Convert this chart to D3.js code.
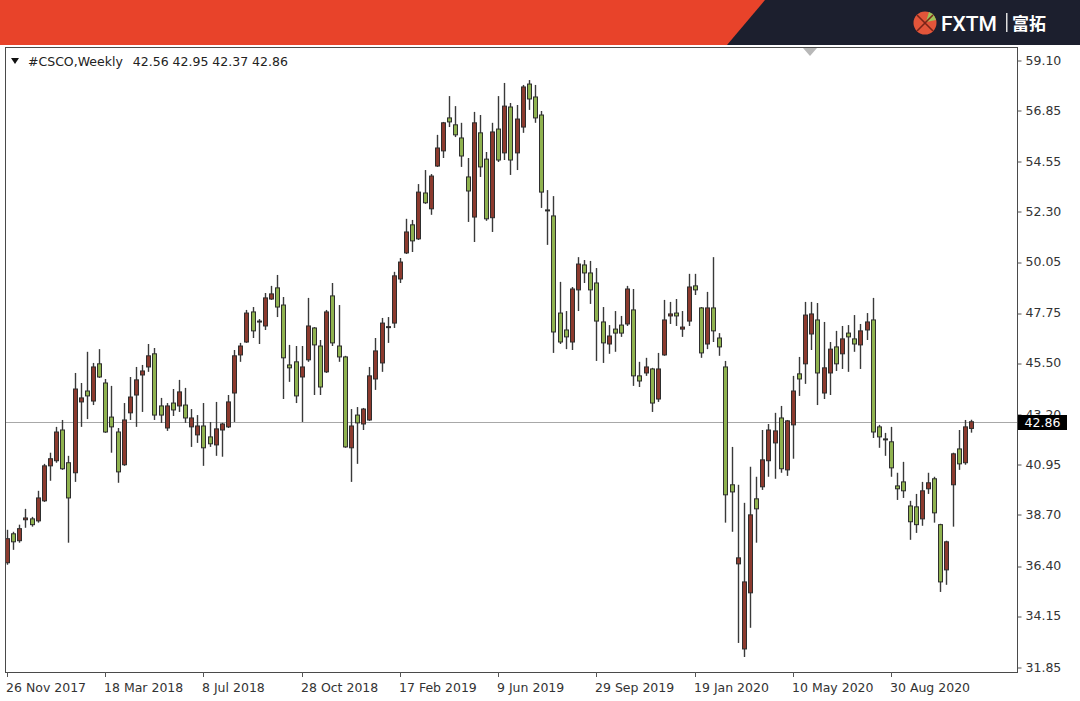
<!DOCTYPE html>
<html><head><meta charset="utf-8">
<script src="https://cdn.jsdelivr.net/npm/d3@7"></script>
<style>html,body{margin:0;padding:0;background:#fff;}svg{display:block;}</style>
</head><body>
<svg id="c" width="1080" height="701"></svg>
<script>
// ---- data (weekly bars from 26 Nov 2017) ----
const open = [
36.53,37.83,37.52,38.46,38.50,38.41,39.31,40.88,41.11,42.49,
41.02,40.57,43.75,44.24,43.79,45.46,44.60,43.07,42.40,40.93,
43.26,44.06,44.96,45.32,45.91,43.57,42.58,43.70,43.57,43.61,
42.63,42.27,42.67,42.18,41.82,42.49,42.63,44.15,45.86,46.44,
47.79,47.38,47.16,48.37,48.87,48.10,45.41,45.55,44.87,45.64,
47.07,46.26,45.10,48.51,46.26,45.77,41.69,43.16,42.76,42.94,
44.78,45.50,47.11,47.29,49.27,50.44,51.70,51.07,53.13,52.42,
54.34,55.02,56.50,56.19,55.60,53.85,52.05,55.83,54.65,52.02,
56.00,54.93,56.99,54.93,56.09,58.02,57.44,56.63,52.37,52.10,
47.74,46.98,46.44,48.78,49.90,49.54,49.09,47.34,46.35,47.02,
47.20,47.25,47.88,44.92,45.05,45.23,43.88,45.86,47.61,47.74,
47.02,47.38,48.96,47.97,46.35,47.97,46.62,45.32,40.03,36.48,
32.66,35.18,39.40,39.94,41.11,41.91,43.03,40.70,42.72,45.01,
45.46,46.80,47.43,44.15,45.05,46.22,45.91,46.84,46.58,46.31,
46.98,47.43,42.63,42.09,41.96,39.98,40.16,39.08,39.04,38.50,
39.85,40.30,38.24,36.21,40.03,41.64,41.02,42.56];
const high = [
38.01,37.92,38.24,38.95,38.59,39.76,40.97,41.47,42.63,42.94,
41.33,45.05,44.60,46.00,45.50,46.12,44.78,44.47,42.58,43.70,
44.87,45.32,45.41,46.35,46.17,43.93,43.70,44.33,44.74,44.38,
43.43,43.16,43.70,42.85,43.75,42.81,44.06,46.08,46.40,47.88,
48.01,47.47,48.64,48.96,49.45,48.46,46.31,46.26,46.26,48.42,
47.11,46.53,47.88,49.09,48.10,45.82,43.43,43.52,43.48,45.32,
46.62,47.52,47.56,49.59,50.21,51.97,51.92,53.53,54.16,53.98,
55.74,56.32,57.48,57.03,56.28,54.70,56.77,56.63,54.97,56.28,
57.48,58.07,57.17,57.08,57.98,58.20,57.98,56.81,53.26,52.99,
49.14,47.83,48.91,50.25,50.12,50.08,49.76,48.01,47.20,47.83,
47.61,48.96,48.82,45.55,45.73,45.28,45.95,48.33,48.24,48.37,
47.83,49.50,49.50,48.01,48.69,50.25,46.84,45.59,41.73,40.03,
39.22,40.84,40.39,42.49,42.76,43.26,43.57,42.94,44.92,45.77,
48.24,48.24,48.19,47.34,46.44,46.94,47.16,47.20,47.65,47.25,
47.74,48.42,42.72,42.36,42.63,40.57,41.06,39.31,39.62,40.16,
40.57,40.39,38.28,37.52,41.47,42.49,42.94,42.95];
const low = [
36.44,37.11,37.43,38.10,38.15,38.33,39.26,40.21,41.02,40.70,
37.43,40.16,42.63,42.98,43.61,44.83,42.36,41.47,40.12,40.88,
42.94,42.63,43.30,45.10,42.94,42.81,42.45,43.12,43.30,42.81,
41.73,41.91,40.88,41.73,41.33,41.29,42.58,42.85,45.55,46.40,
46.62,46.35,46.98,48.33,47.56,43.88,44.65,43.70,42.85,45.55,
44.06,44.06,45.05,46.26,45.55,41.69,40.16,40.97,42.49,42.90,
44.29,45.10,46.40,47.07,49.09,50.39,50.48,51.02,52.64,52.15,
54.30,54.70,56.09,55.64,54.30,51.83,50.93,53.85,51.88,51.38,
54.52,54.61,53.94,54.16,55.83,56.86,56.28,52.46,50.80,45.95,
46.35,46.12,46.08,47.83,49.09,48.15,45.59,45.50,45.91,46.00,
46.67,47.16,44.47,44.42,44.92,43.30,43.75,45.82,47.25,47.16,
46.67,47.16,48.55,45.73,46.12,46.44,45.82,38.33,37.92,32.93,
32.30,33.61,37.43,39.80,40.39,40.30,40.57,40.43,41.20,44.02,
44.56,46.08,43.61,43.88,44.06,45.14,45.23,45.10,46.00,45.23,
46.53,42.13,41.69,41.33,40.39,39.35,39.44,37.56,37.87,38.19,
39.62,38.33,35.22,35.54,38.15,40.70,40.93,42.37];
const close = [
37.61,37.47,38.06,38.54,38.24,39.44,40.88,41.20,42.40,40.75,
39.44,44.33,43.93,44.02,45.32,44.87,42.40,42.63,40.61,42.94,
43.97,44.74,45.14,45.82,43.16,43.16,43.57,43.39,44.20,43.03,
43.03,42.67,41.69,41.87,42.54,42.76,43.75,45.82,46.26,47.74,
46.94,47.34,48.42,48.60,48.01,45.73,45.28,44.02,45.32,47.16,
46.31,44.42,47.79,46.40,45.77,41.73,42.67,42.81,43.43,44.92,
46.04,47.29,47.13,49.41,50.03,51.38,50.98,53.17,52.69,53.89,
55.15,56.28,56.32,55.74,54.79,53.22,56.28,54.30,51.97,55.87,
54.61,57.03,54.61,56.45,57.89,57.35,56.50,53.17,52.35,46.89,
46.44,46.67,48.82,49.94,49.54,48.78,47.38,46.40,46.71,46.84,
46.84,48.82,44.92,44.69,45.32,43.70,45.23,47.43,47.70,47.61,
47.11,48.91,48.78,45.95,47.97,46.94,46.22,39.58,39.71,36.75,
35.67,38.68,38.95,41.15,42.49,42.45,40.75,42.90,44.24,44.78,
47.65,47.70,45.05,45.28,46.12,45.46,46.58,46.67,46.35,46.94,
47.34,42.40,42.18,42.08,40.79,39.85,39.76,38.37,38.24,39.76,
40.12,38.77,35.67,37.47,41.42,40.97,42.63,42.86];

const dateLabels = ["26 Nov 2017","18 Mar 2018","8 Jul 2018","28 Oct 2018","17 Feb 2019","9 Jun 2019","29 Sep 2019","19 Jan 2020","10 May 2020","30 Aug 2020"];
const dateLabelBars = [0,16,32,48,64,80,96,112,128,144];
const priceTicks = [59.10,56.85,54.55,52.30,50.05,47.75,45.50,43.20,40.95,38.70,36.40,34.15,31.85];
const title = "#CSCO,Weekly";
const lastBar = [42.56, 42.95, 42.37, 42.86];

const bars = open.map((o,i)=>({i, o, h:high[i], l:low[i], c:close[i]}));

const svg = d3.select("#c");
const W = 1080, H = 701;
const frame = {l:5, t:47, r:1017, b:672};
const FONT = "'DejaVu Sans', Verdana, sans-serif";

// ---- header ----
svg.append("rect").attr("x",0).attr("y",0).attr("width",W).attr("height",45).attr("fill","#e8432a");
svg.append("path").attr("d","M765,0 L1080,0 L1080,45 L727,45 Z").attr("fill","#1c1f2e");
// logo
const lg = svg.append("g").attr("transform","translate(925,23)");
lg.append("circle").attr("r",11.5).attr("fill","#e2553a");
lg.append("path").attr("d","M1,-1 L4,-11 A11.5,11.5 0 0 1 11,-3 Z").attr("fill","#9cc35a");
lg.append("path").attr("d","M-8,-8 Q0,0 8,8 M8,-8 Q0,0 -8,8").attr("stroke","#7a2418").attr("stroke-width",1.6).attr("fill","none");
svg.append("text").attr("x",941).attr("y",31).attr("fill","#fff")
  .attr("font-family","Roboto, 'DejaVu Sans', sans-serif").attr("font-weight","500").attr("font-size",21).text("FXTM");
svg.append("rect").attr("x",1006).attr("y",13).attr("width",1.5).attr("height",19).attr("fill","#ddd");
svg.append("text").attr("x",1012).attr("y",30).attr("fill","#fff")
  .attr("font-family","'Noto Sans CJK SC', sans-serif").attr("font-weight","bold").attr("font-size",17).text("富拓");

// ---- scales ----
const x = d3.scaleLinear().domain([0, bars.length-1]).range([7, 971]);
const y = d3.scaleLinear().domain([31.85, 59.10]).range([667, 60]);

// frame
svg.append("rect").attr("x",frame.l+0.5).attr("y",frame.t+0.5)
  .attr("width",frame.r-frame.l).attr("height",frame.b-frame.t)
  .attr("fill","#fff").attr("stroke","#4a4a4a").attr("stroke-width",1);

// shift marker
svg.append("path").attr("d","M803,48 L817,48 L810,56 Z").attr("fill","#b8b8b8");

// last price line
const yl = Math.round(y(lastBar[3]))+0.5;
svg.append("line").attr("x1",frame.l+1).attr("x2",frame.r).attr("y1",yl).attr("y2",yl)
  .attr("stroke","#a8a8a8").attr("stroke-width",1);

// candles
const chart = svg.append("g");
const cg = chart.selectAll("g.c").data(bars).join("g").attr("class","c");
cg.append("line")
  .attr("x1",d=>Math.round(x(d.i))+0.5).attr("x2",d=>Math.round(x(d.i))+0.5)
  .attr("y1",d=>y(d.h)).attr("y2",d=>y(d.l))
  .attr("stroke","#3a3a3a").attr("stroke-width",1.4);
cg.append("rect")
  .attr("x",d=>Math.round(x(d.i))-1.5).attr("width",4)
  .attr("y",d=>y(Math.max(d.o,d.c)))
  .attr("height",d=>Math.max(1, y(Math.min(d.o,d.c))-y(Math.max(d.o,d.c))))
  .attr("fill",d=>d.c>=d.o?"#8c3a2e":"#8fb24f")
  .attr("stroke","#2e2e2e").attr("stroke-width",1);

// clip left part outside frame
svg.append("rect").attr("x",0).attr("y",frame.t).attr("width",frame.l).attr("height",frame.b-frame.t+1).attr("fill","#fff");
svg.append("line").attr("x1",frame.l+0.5).attr("x2",frame.l+0.5).attr("y1",frame.t).attr("y2",frame.b+1).attr("stroke","#4a4a4a");

// ---- right price axis ----
const ya = svg.append("g").attr("transform",`translate(${frame.r+0.5},0)`)
  .call(d3.axisRight(y).tickValues(priceTicks).tickFormat(d3.format(".2f")).tickSize(4).tickPadding(4));
ya.select(".domain").remove();
ya.selectAll("line").attr("stroke","#555").attr("transform",d=>`translate(0,${Math.round(y(d))+0.5-y(d)})`);
ya.selectAll("text").attr("font-family",FONT).attr("font-size",12.5).attr("fill","#333");

// last price box (drawn over the 43.20 label, as in the terminal)
svg.append("rect").attr("x",1018).attr("y",415).attr("width",49).attr("height",15).attr("fill","#000");
svg.append("text").attr("x",1042.5).attr("y",y(lastBar[3])+5).attr("text-anchor","middle")
  .attr("font-family",FONT).attr("font-size",12.5).attr("fill","#fff")
  .text(d3.format(".2f")(lastBar[3]));

// ---- bottom time axis ----
const xa = svg.append("g");
xa.selectAll("line").data(dateLabelBars).join("line")
  .attr("x1",d=>Math.round(x(d))+0.5).attr("x2",d=>Math.round(x(d))+0.5)
  .attr("y1",frame.b).attr("y2",frame.b+5).attr("stroke","#555");
xa.selectAll("text").data(dateLabelBars).join("text")
  .attr("x",d=>Math.round(x(d))-1).attr("y",692)
  .attr("font-family",FONT).attr("font-size",12.5).attr("fill","#333")
  .text((d,k)=>dateLabels[k]);

// ---- title ----
svg.append("path").attr("d","M11,58 L19,58 L15,64 Z").attr("fill","#111");
const tt = svg.append("text").attr("x",28).attr("y",66)
  .attr("font-family",FONT).attr("font-size",12.5).attr("fill","#222");
tt.append("tspan").text(title);
tt.append("tspan").attr("dx",10).text(lastBar.map(d3.format(".2f")).join(" "));
</script>
</body></html>
